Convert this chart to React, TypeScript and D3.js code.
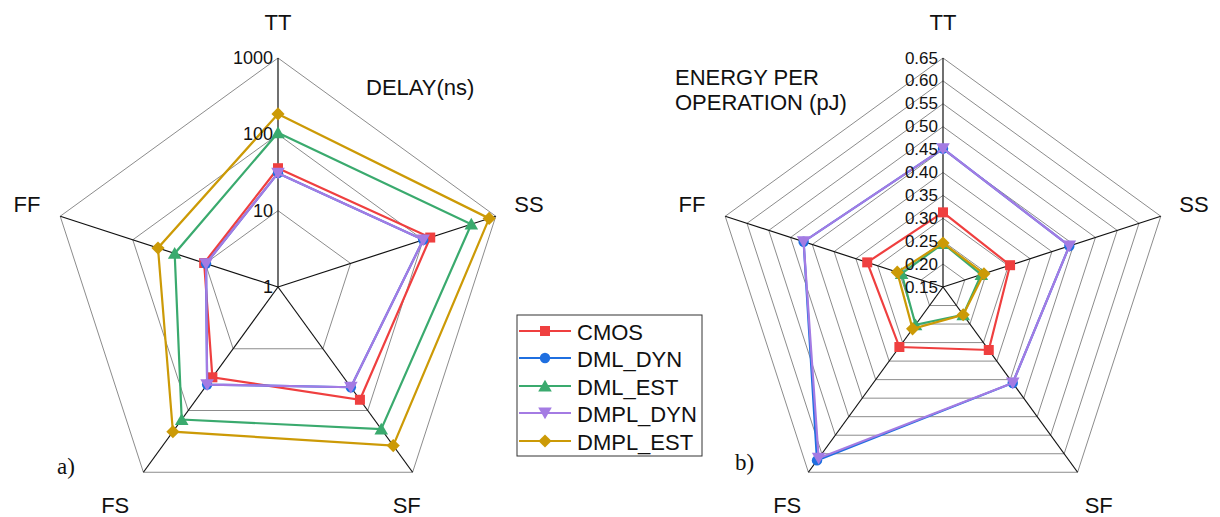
import React from "react";
import * as d3 from "d3";

// Process corners (axes of each radar)
const CORNERS = ["TT", "SS", "SF", "FS", "FF"];

// Series names, in drawing order
const SERIES = ["CMOS", "DML_DYN", "DML_EST", "DMPL_DYN", "DMPL_EST"];

// a) Delay in ns per corner (TT, SS, SF, FS, FF)
const delayCMOS = [36, 125, 67, 29, 10.4];
const delayDMLDyn = [31, 100, 42, 38, 9.8];
const delayDMLEst = [105, 460, 200, 140, 26.5];
const delayDMPLDyn = [31, 100, 42, 38, 9.8];
const delayDMPLEst = [185, 810, 370, 220, 45];

// b) Energy per operation in pJ per corner (TT, SS, SF, FS, FF)
const energyCMOS = [0.313, 0.304, 0.32, 0.312, 0.324];
const energyDMLDyn = [0.452, 0.44, 0.409, 0.618, 0.47];
const energyDMLEst = [0.245, 0.238, 0.225, 0.252, 0.245];
const energyDMPLDyn = [0.452, 0.44, 0.409, 0.612, 0.47];
const energyDMPLEst = [0.246, 0.244, 0.225, 0.263, 0.255];

// Radial tick labels
const delayTicks = [1, 10, 100, 1000];
const energyTicks = ["0.15", "0.20", "0.25", "0.30", "0.35", "0.40", "0.45", "0.50", "0.55", "0.60", "0.65"];

const COLORS = ["#ef3f3f", "#1f6fe0", "#3aaa6e", "#a47be3", "#cc9a06"];
const SHAPES = ["square", "circle", "triangle", "triangleDown", "diamond"];

const FONT = "'Liberation Sans', Arial, sans-serif";
const SERIF = "'Liberation Serif', 'Times New Roman', serif";

const R = 229;
const angleOf = (i: number) => ((-90 + 72 * i) * Math.PI) / 180;
const pt = (cx: number, cy: number, r: number, i: number): [number, number] => [
  cx + r * Math.cos(angleOf(i)),
  cy + r * Math.sin(angleOf(i)),
];

function Marker({ shape, x, y, color }: { shape: string; x: number; y: number; color: string }) {
  const sym =
    shape === "square"
      ? d3.symbol(d3.symbolSquare, 100)
      : shape === "circle"
      ? d3.symbol(d3.symbolCircle, 85)
      : shape === "triangle" || shape === "triangleDown"
      ? d3.symbol(d3.symbolTriangle, 80)
      : d3.symbol(d3.symbolDiamond2, 110);
  const rot = shape === "triangleDown" ? 180 : 0;
  const dy = shape === "triangle" ? 1.5 : shape === "triangleDown" ? -1.5 : 0;
  return (
    <path
      d={sym() as string}
      transform={`translate(${x},${y + dy}) rotate(${rot})`}
      fill={color}
    />
  );
}

type RadarProps = {
  cx: number;
  cy: number;
  radius: (v: number) => number;
  rings: number[];
  series: number[][];
  labelOffsets: [number, number][];
};

function Radar({ cx, cy, radius, rings, series, labelOffsets }: RadarProps) {
  const ringPath = (r: number) =>
    d3.line()(CORNERS.map((_, i) => pt(cx, cy, r, i)).concat([pt(cx, cy, r, 0)])) as string;
  const line = d3.line();
  return (
    <g>
      {rings.map((v, k) => (
        <path key={k} d={ringPath(radius(v))} fill="none" stroke="#8c8c8c" strokeWidth={1} />
      ))}
      {CORNERS.map((_, i) => {
        const [x, y] = pt(cx, cy, R, i);
        return <line key={i} x1={cx} y1={cy} x2={x} y2={y} stroke="#111" strokeWidth={1.2} />;
      })}
      {CORNERS.map((c, i) => {
        const [x, y] = pt(cx, cy, 265, i);
        return (
          <text
            key={c}
            x={x + labelOffsets[i][0]}
            y={y + labelOffsets[i][1]}
            fontFamily={FONT}
            fontSize={22}
            textAnchor="middle"
            dominantBaseline="central"
            fill="#111"
          >
            {c}
          </text>
        );
      })}
      {series.map((vals, s) => {
        const pts = vals.map((v, i) => pt(cx, cy, radius(v), i));
        return (
          <g key={s}>
            <path d={line(pts.concat([pts[0]])) as string} fill="none" stroke={COLORS[s]} strokeWidth={2.2} />
            {pts.map(([x, y], i) => (
              <Marker key={i} shape={SHAPES[s]} x={x} y={y} color={COLORS[s]} />
            ))}
          </g>
        );
      })}
    </g>
  );
}

export default function App() {
  const delayR = d3.scaleLog().domain([1, 1000]).range([0, R]);
  const energyR = d3.scaleLinear().domain([0.15, 0.65]).range([0, R]);

  const lcx = 278, lcy = 287;
  const rcx = 943, rcy = 287;

  const delaySeries = [delayCMOS, delayDMLDyn, delayDMLEst, delayDMPLDyn, delayDMPLEst];
  const energySeries = [energyCMOS, energyDMLDyn, energyDMLEst, energyDMPLDyn, energyDMPLEst];
  const energyRings = energyTicks.slice(1).map(Number);

  const legendX = 517, legendY = 315;
  const legendRows = [331, 358, 386, 413, 441];

  return (
    <svg
      width={1220}
      height={517}
      style={{ position: "absolute", left: 0, top: 0, background: "#fff" }}
    >
      <rect width={1220} height={517} fill="#fff" />

      {/* a) delay radar, log scale */}
      <Radar
        cx={lcx}
        cy={lcy}
        radius={(v) => delayR(v)}
        rings={delayTicks.slice(1)}
        series={delaySeries}
        labelOffsets={[[0, 0], [-1, -1], [-27, 4], [-7, 4], [1, -1]]}
      />
      {delayTicks.map((t) => (
        <text
          key={t}
          x={lcx - 5}
          y={lcy - delayR(t)}
          fontFamily={FONT}
          fontSize={18}
          textAnchor="end"
          dominantBaseline="central"
          fill="#111"
        >
          {t}
        </text>
      ))}
      <text x={366} y={95} fontFamily={FONT} fontSize={22} fill="#111">
        DELAY(ns)
      </text>
      <text x={57} y={474} fontFamily={SERIF} fontSize={23} fill="#111">
        a)
      </text>

      {/* b) energy radar, linear scale */}
      <Radar
        cx={rcx}
        cy={rcy}
        radius={(v) => energyR(v)}
        rings={energyRings}
        series={energySeries}
        labelOffsets={[[0, 0], [-1, -1], [0, 4], [0, 4], [1, -1]]}
      />
      {energyTicks.map((t) => (
        <text
          key={t}
          x={rcx - 5}
          y={rcy - energyR(Number(t))}
          fontFamily={FONT}
          fontSize={17}
          textAnchor="end"
          dominantBaseline="central"
          fill="#111"
        >
          {t}
        </text>
      ))}
      <text fontFamily={FONT} fontSize={22} fill="#111">
        <tspan x={675} y={85}>ENERGY PER</tspan>
        <tspan x={675} y={110}>OPERATION (pJ)</tspan>
      </text>
      <text x={735} y={470} fontFamily={SERIF} fontSize={23} fill="#111">
        b)
      </text>

      {/* legend */}
      <rect x={legendX} y={legendY} width={185} height={141} fill="#fff" stroke="#333" strokeWidth={1} />
      {SERIES.map((name, s) => (
        <g key={name}>
          <line x1={519} x2={571} y1={legendRows[s]} y2={legendRows[s]} stroke={COLORS[s]} strokeWidth={2.2} />
          <Marker shape={SHAPES[s]} x={545} y={legendRows[s]} color={COLORS[s]} />
          <text
            x={577}
            y={legendRows[s] + 1}
            fontFamily={FONT}
            fontSize={22}
            dominantBaseline="central"
            fill="#111"
          >
            {name}
          </text>
        </g>
      ))}
    </svg>
  );
}
